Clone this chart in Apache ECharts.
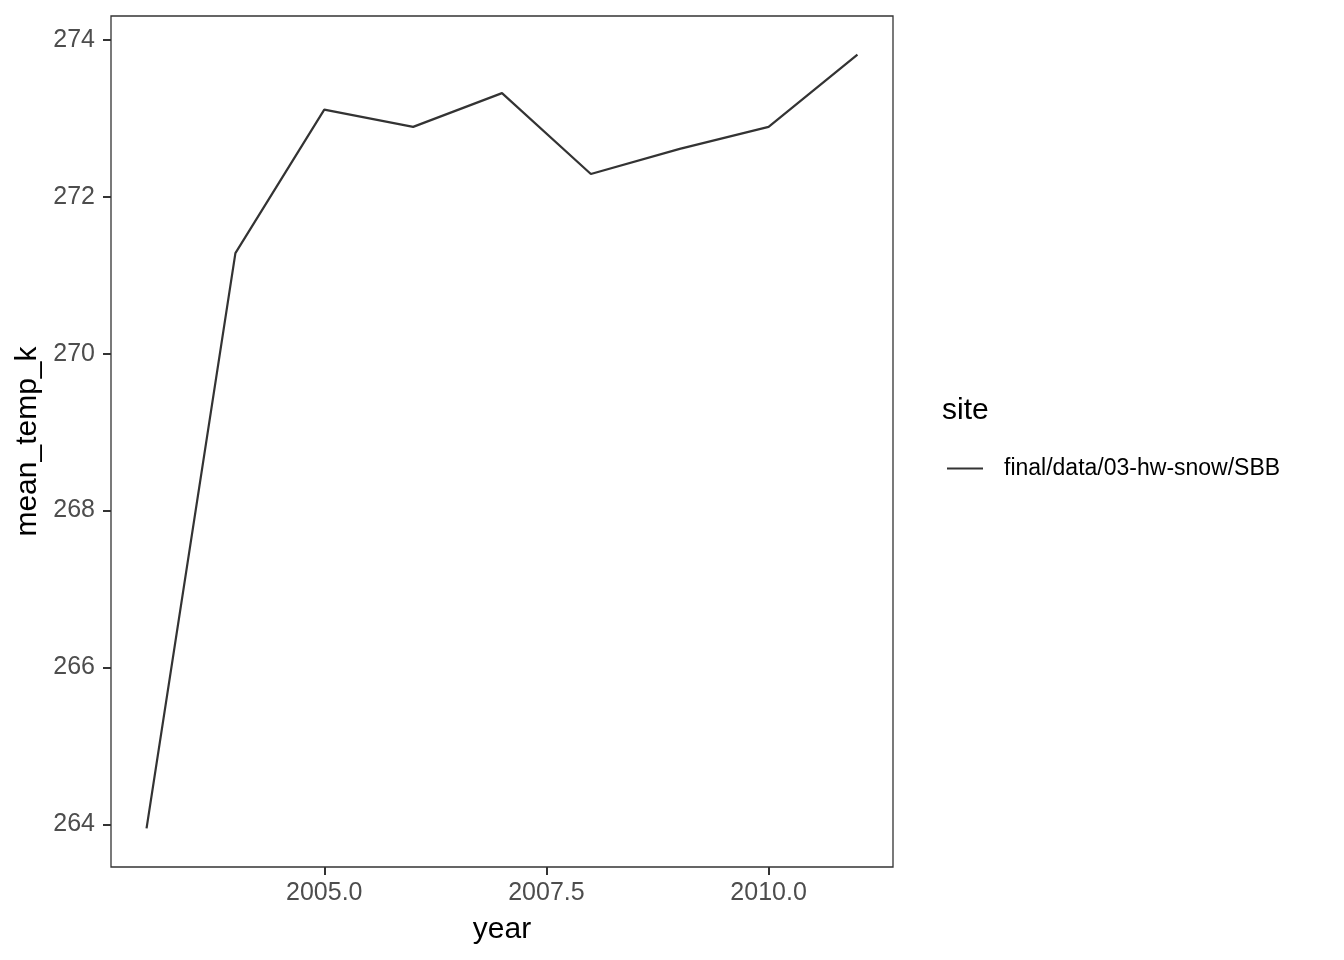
<!DOCTYPE html>
<html>
<head>
<meta charset="utf-8">
<script src="https://cdn.jsdelivr.net/npm/echarts@6/dist/echarts.min.js"></script>
<style>
html,body{margin:0;padding:0;background:#fff;}
#chart{width:1344px;height:960px;}
</style>
</head>
<body>
<div id="chart"></div>
<script>
const years = [2003, 2004, 2005, 2006, 2007, 2008, 2009, 2010, 2011];
const meanTempK = [263.95, 271.28, 273.11, 272.89, 273.32, 272.29, 272.61, 272.89, 273.81];
const xTicks = [2005, 2007.5, 2010];
const yTicks = [264, 266, 268, 270, 272, 274];
const seriesName = 'final/data/03-hw-snow/SBB';
const legendTitle = 'site';
const xTitle = 'year';
const yTitle = 'mean_temp_k';

const FONT = '"Liberation Sans", Arial, Helvetica, sans-serif';
const chart = echarts.init(document.getElementById('chart'), null, {renderer: 'canvas'});

const xMin = Math.min(...years), xMax = Math.max(...years);
const yMin = Math.min(...meanTempK), yMax = Math.max(...meanTempK);
const xPad = (xMax - xMin) * 0.05, yPad = (yMax - yMin) * 0.05;

chart.setOption({
  animation: false,
  backgroundColor: '#ffffff',
  grid: {left: 111, right: 451, top: 16, bottom: 93, show: true, borderColor: '#333333', borderWidth: 1.3, backgroundColor: 'transparent'},
  xAxis: {
    type: 'value', min: xMin - xPad, max: xMax + xPad,
    name: xTitle, nameLocation: 'middle', nameGap: 48,
    nameTextStyle: {fontFamily: FONT, fontSize: 30, color: '#000'},
    axisLine: {show: false},
    splitLine: {show: false},
    axisTick: {show: true, length: 8, lineStyle: {color: '#333333', width: 2}, customValues: xTicks},
    axisLabel: {fontFamily: FONT, fontSize: 25, color: '#4d4d4d', margin: 14, customValues: xTicks,
      formatter: v => v.toFixed(1)}
  },
  yAxis: {
    type: 'value', min: yMin - yPad, max: yMax + yPad,
    name: yTitle, nameLocation: 'middle', nameGap: 63,
    nameTextStyle: {fontFamily: FONT, fontSize: 30, color: '#000'},
    axisLine: {show: false},
    splitLine: {show: false},
    axisTick: {show: true, length: 8, lineStyle: {color: '#333333', width: 2}, customValues: yTicks},
    axisLabel: {fontFamily: FONT, fontSize: 25, color: '#4d4d4d', margin: 16, customValues: yTicks,
      formatter: v => String(v)}
  },
  legend: {
    left: 942, top: 452, orient: 'vertical',
    icon: 'rect', itemWidth: 36, itemHeight: 2,
    textStyle: {fontFamily: FONT, fontSize: 23, color: '#000', padding: [0, 0, 0, 16]},
    data: [seriesName]
  },
  graphic: [{
    type: 'text', left: 942, top: 396,
    style: {text: legendTitle, fontFamily: FONT, fontSize: 30, fill: '#000'}
  }],
  series: [{
    name: seriesName, type: 'line',
    data: years.map((y, i) => [y, meanTempK[i]]),
    showSymbol: false, symbol: 'none',
    lineStyle: {color: '#333333', width: 2.2},
    itemStyle: {color: '#333333'}
  }]
});
</script>
</body>
</html>
